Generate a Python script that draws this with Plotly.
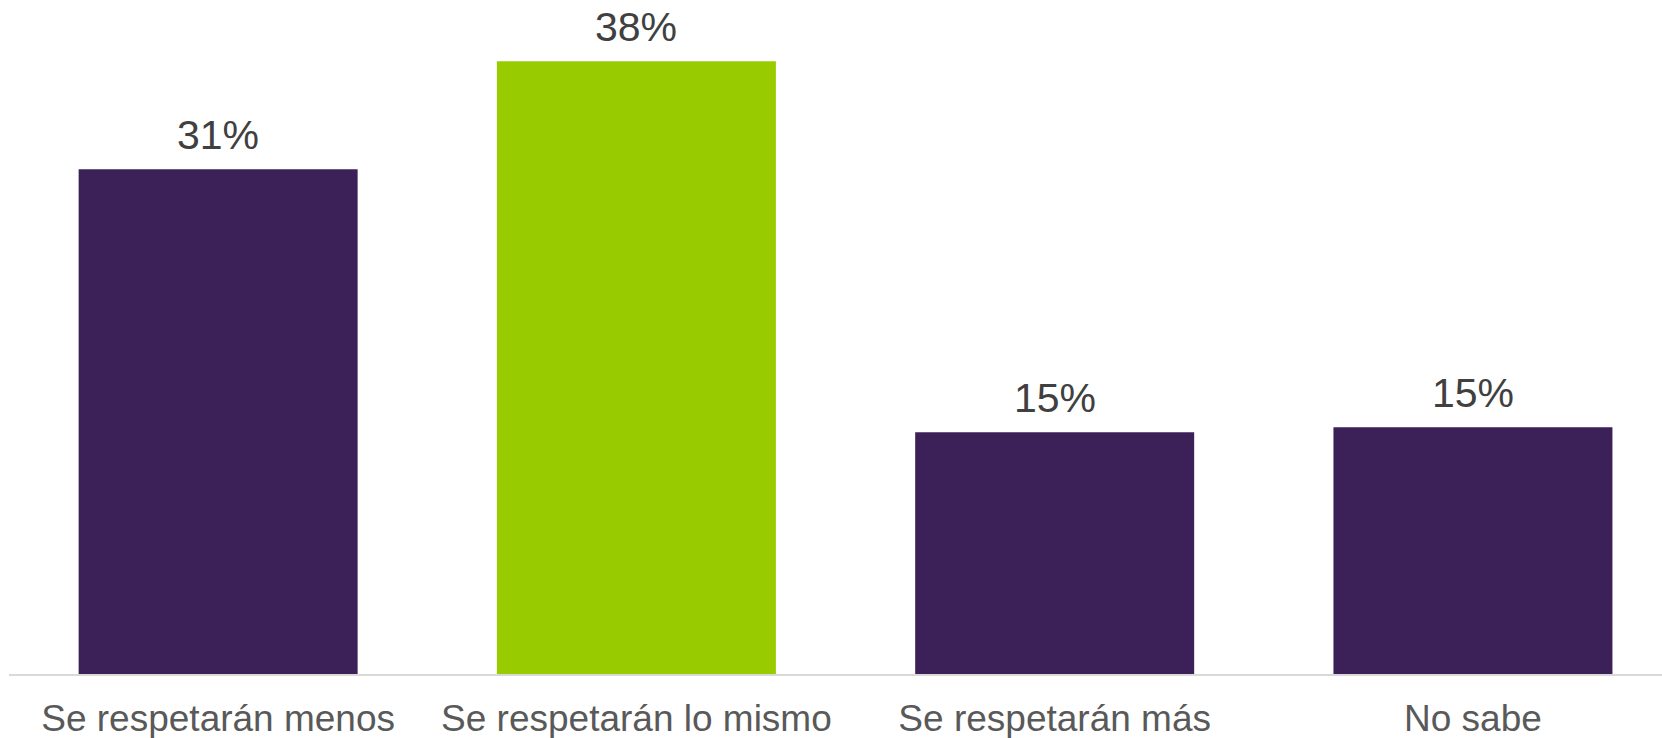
import plotly.graph_objects as go

# Datos
categorias = ["Se respetarán menos", "Se respetarán lo mismo", "Se respetarán más", "No sabe"]
valores = [31.3, 38.0, 15.0, 15.3]
etiquetas = ["31%", "38%", "15%", "15%"]
colores = ["#3c2159", "#99cc00", "#3c2159", "#3c2159"]

fig = go.Figure()

fig.add_trace(go.Bar(
    x=categorias,
    y=valores,
    marker=dict(color=colores, line=dict(width=0)),
    showlegend=False,
    hoverinfo="skip"
))

# Etiquetas de valor sobre las barras
for cat, val, txt in zip(categorias, valores, etiquetas):
    fig.add_annotation(
        x=cat, y=val, text=txt,
        showarrow=False, yanchor="bottom", yshift=10, borderpad=0,
        font=dict(family="Liberation Sans, Arial", size=41, color="#404040")
    )

fig.update_layout(
    width=1662, height=738,
    plot_bgcolor="white", paper_bgcolor="white",
    margin=dict(l=9, r=0, t=0, b=64),
    bargap=0.333,
    font=dict(family="Liberation Sans, Arial", size=37, color="#595959"),
)

fig.update_xaxes(
    range=[-0.5, 3.452],
    showline=True, linecolor="#d9d9d9", linewidth=2,
    ticks="", showgrid=False, ticklabelstandoff=11,
    tickfont=dict(size=37, color="#595959")
)
fig.update_yaxes(
    range=[0, 41.8],
    visible=False, showgrid=False, zeroline=False
)

# quitar el margen por defecto del body para que la figura empiece en (0, 0)
fig.write_html(
    "out.html",
    config={"displayModeBar": False},
    post_script="document.body.style.margin='0';"
)
